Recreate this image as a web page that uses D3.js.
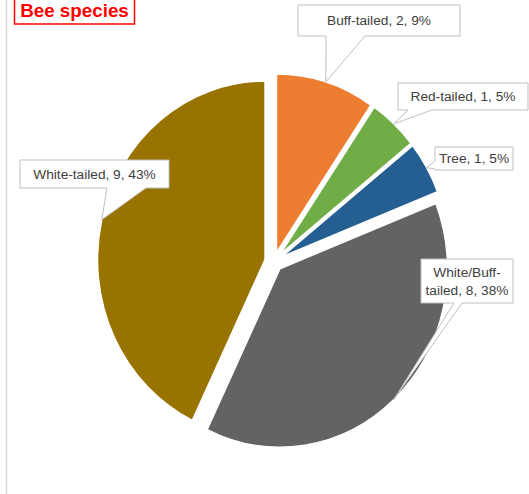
<!DOCTYPE html>
<html>
<head>
<meta charset="utf-8">
<script src="https://cdn.jsdelivr.net/npm/d3@7"></script>
<style>
  body { margin: 0; background: #fff; }
  svg { display: block; }
</style>
</head>
<body>
<div id="chart"></div>
<script>
// --- data ---
const categories = ["Buff-tailed", "Red-tailed", "Tree", "White/Buff-tailed", "White-tailed"];
const counts = [2, 1, 1, 8, 9];
const percents = ["9%", "5%", "5%", "38%", "43%"];
const colors = ["#ED7D31", "#70AD47", "#255E91", "#636363", "#997300"];

// --- layout ---
const W = 529, H = 494;
const cx = 273.8, cy = 261.7;
const rx = 167.5, ry = 178.5;   // the picture is a little taller than wide
const explode = 9;

// callout boxes (position of the label box, side the pointer leaves from, pointer base)
const callouts = [
  { x: 298, y: 5,   w: 162, h: 31, side: "bottom", base: [326, 365], lines: 1 },
  { x: 398, y: 83,  w: 130, h: 27, side: "bottom", base: [408, 432], lines: 1 },
  { x: 435, y: 147, w: 78,  h: 23, side: "left",   base: [161, 169], lines: 1 },
  { x: 421, y: 259, w: 92,  h: 44, side: "bottom", base: [454, 462], lines: 2 },
  { x: 20,  y: 160, w: 149, h: 28, side: "bottom", base: [107, 146], lines: 1 }
];

const data = categories.map((c, i) => ({ name: c, value: counts[i], pct: percents[i], color: colors[i] }));

const svg = d3.select("#chart").append("svg")
  .attr("width", W)
  .attr("height", H);

svg.append("rect").attr("width", W).attr("height", H).attr("fill", "#fff");

// left border of the chart area
svg.append("line")
  .attr("x1", 6.5).attr("x2", 6.5)
  .attr("y1", 0).attr("y2", H)
  .attr("stroke", "#D9D9D9")
  .attr("stroke-width", 1.5);

// ----- pie -----
const pie = d3.pie().sort(null).value(d => d.value);
const arcs = pie(data);
const k = ry / rx;

const arc = d3.arc().innerRadius(0).outerRadius(rx);

const pieG = svg.append("g")
  .attr("transform", `translate(${cx},${cy}) scale(1,${k})`);

function offsetOf(a) {
  const mid = (a.startAngle + a.endAngle) / 2;
  return [Math.sin(mid) * explode, -Math.cos(mid) * explode];
}

pieG.selectAll("path")
  .data(arcs)
  .enter()
  .append("path")
  .attr("transform", d => `translate(${offsetOf(d)[0]},${offsetOf(d)[1]})`)
  .attr("d", arc)
  .attr("fill", d => d.data.color)
  .attr("stroke", "#fff")
  .attr("stroke-width", 1.5)
  .attr("vector-effect", "non-scaling-stroke");

// point on the outer edge of a slice, at its middle angle, in page coords
function tipOf(a) {
  const mid = (a.startAngle + a.endAngle) / 2;
  const [ox, oy] = offsetOf(a);
  const px = Math.sin(mid) * rx + ox;
  const py = -Math.cos(mid) * rx + oy;
  return [cx + px, cy + py * k];
}

function calloutPath(b, tip) {
  const p = d3.path();
  if (b.side === "bottom") {
    p.moveTo(b.x, b.y);
    p.lineTo(b.x + b.w, b.y);
    p.lineTo(b.x + b.w, b.y + b.h);
    p.lineTo(b.base[1], b.y + b.h);
    p.lineTo(tip[0], tip[1]);
    p.lineTo(b.base[0], b.y + b.h);
    p.lineTo(b.x, b.y + b.h);
  } else {
    p.moveTo(b.x, b.y);
    p.lineTo(b.x + b.w, b.y);
    p.lineTo(b.x + b.w, b.y + b.h);
    p.lineTo(b.x, b.y + b.h);
    p.lineTo(b.x, b.base[1]);
    p.lineTo(tip[0], tip[1]);
    p.lineTo(b.x, b.base[0]);
  }
  p.closePath();
  return p.toString();
}

// ----- callout labels -----
const fontSize = 13.7;
const lineGap = 18.5;
const labelG = svg.append("g");

arcs.forEach((a, i) => {
  const b = callouts[i];
  const tip = tipOf(a);
  const g = labelG.append("g");

  g.append("path")
    .attr("d", calloutPath(b, tip))
    .attr("fill", "#fff")
    .attr("stroke", "#BFBFBF")
    .attr("stroke-width", 1);

  const full = `${a.data.name}, ${a.data.value}, ${a.data.pct}`;
  let lines = [full];
  if (b.lines === 2) {
    const cut = full.indexOf("-") + 1;
    lines = [full.slice(0, cut), full.slice(cut)];
  }

  const midY = b.y + b.h / 2;
  const firstBase = midY - (lines.length - 1) * lineGap / 2 + fontSize * 0.36;

  const t = g.append("text")
    .attr("font-family", "'Liberation Sans', Arial, sans-serif")
    .attr("font-size", fontSize)
    .attr("fill", "#404040")
    .attr("text-anchor", "middle");

  lines.forEach((ln, j) => {
    t.append("tspan")
      .attr("x", b.x + b.w / 2)
      .attr("y", firstBase + j * lineGap)
      .text(ln);
  });
});

// ----- title -----
svg.append("rect")
  .attr("x", 14.5).attr("y", -2)
  .attr("width", 120).attr("height", 26)
  .attr("fill", "#fff")
  .attr("stroke", "#FF0000")
  .attr("stroke-width", 1.5);

svg.append("text")
  .attr("x", 74.5)
  .attr("y", 16.5)
  .attr("text-anchor", "middle")
  .attr("font-family", "'Liberation Sans', Arial, sans-serif")
  .attr("font-weight", "bold")
  .attr("font-size", 18.8)
  .attr("fill", "#FF0000")
  .text("Bee species");
</script>
</body>
</html>
